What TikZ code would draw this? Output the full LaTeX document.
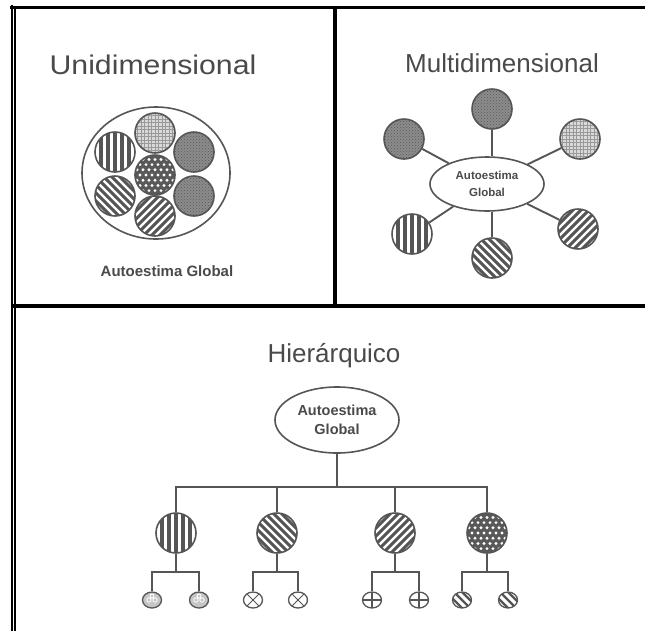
\documentclass[tikz,border=0pt]{standalone}
\usepackage{fontspec}
\setmainfont{Liberation Sans}
\usetikzlibrary{shapes.geometric,patterns}
\definecolor{lg}{HTML}{555555}
\definecolor{tg}{HTML}{4A4A4A}
\begin{document}
\begin{tikzpicture}[x=1pt,y=-1pt,
  frame/.style={draw=black,line cap=rect},
  conn/.style={draw=lg,line width=1.9pt},
  title/.style={text=tg,font=\fontsize{26}{30}\selectfont,anchor=base,inner sep=0},
  lbl/.style={text=tg,font=\bfseries\fontsize{#1}{#1}\selectfont,align=center,inner sep=0},
  bigc/.style={circle,draw=lg,line width=1.6pt,minimum size=40,inner sep=0pt},
  smallc/.style={ellipse,draw=lg,line width=1.3pt,minimum width=19,minimum height=16,inner sep=0pt},
  ellc/.style={ellipse,draw=lg,line width=1.6pt,inner sep=0pt},
  pvert/.style={path picture={\coordinate (pc) at (path picture bounding box.center);
    \begin{scope}[shift={(pc)}]
    \foreach \k in {-21,-14,...,21} \fill[lg] (\k-1.8,-30) rectangle (\k+1.8,30);
    \end{scope}}},
  pdiagA/.style={path picture={\coordinate (pc) at (path picture bounding box.center);
    \begin{scope}[shift={(pc)}]
    \foreach \k in {-48,-40,...,48} \draw[lg,line width=3pt] (\k-30,-30) -- (\k+30,30);
    \end{scope}}},
  pdiagB/.style={path picture={\coordinate (pc) at (path picture bounding box.center);
    \begin{scope}[shift={(pc)}]
    \foreach \k in {-48,-40,...,48} \draw[lg,line width=3pt] (\k-30,30) -- (\k+30,-30);
    \end{scope}}},
  plight/.style={path picture={\coordinate (pc) at (path picture bounding box.center);
    \begin{scope}[shift={(pc)}]
    \fill[gray!30] (-25,-25) rectangle (25,25);
    \foreach \k in {-7,...,7} {\draw[gray!80,line width=.7pt] (\k*3.5,-25) -- (\k*3.5,25);
      \draw[gray!80,line width=.7pt] (-25,\k*3.5) -- (25,\k*3.5);}
    \end{scope}}},
  pdark/.style={path picture={\coordinate (pc) at (path picture bounding box.center);
    \begin{scope}[shift={(pc)}]
    \fill[black!45] (-25,-25) rectangle (25,25);
    \fill[pattern=crosshatch dots,pattern color=black!65] (-25,-25) rectangle (25,25);
    \end{scope}}},
  pdots/.style={path picture={\coordinate (pc) at (path picture bounding box.center);
    \begin{scope}[shift={(pc)}]
    \fill[black!65] (-25,-25) rectangle (25,25);
    \foreach \j in {-5,...,5} \foreach \i in {-5,...,5}
      \fill[white] ({\i*6+3*mod(\j+5,2)},{\j*5.2}) circle (1.6);
    \end{scope}}},
  sA/.style={fill=gray!45,path picture={\coordinate (pc) at (path picture bounding box.center);
    \begin{scope}[shift={(pc)}]
    \draw[white,line width=.8pt] (-3,0) circle (2.2) (3,0) circle (2.2) (0,-4) circle (2);
    \end{scope}}},
  sB/.style={path picture={\coordinate (pc) at (path picture bounding box.center);
    \begin{scope}[shift={(pc)}]
    \draw[lg,line width=1pt] (-6,-6) -- (6,6) (-6,6) -- (6,-6);
    \end{scope}}},
  sC/.style={path picture={\coordinate (pc) at (path picture bounding box.center);
    \begin{scope}[shift={(pc)}]
    \draw[lg,line width=1.1pt] (-10,0) -- (10,0) (0,-10) -- (0,10);
    \end{scope}}},
  sD/.style={path picture={\coordinate (pc) at (path picture bounding box.center);
    \begin{scope}[shift={(pc)}]
    \foreach \k in {-8,0,8} \draw[lg,line width=2.4pt] (\k-10,-10) -- (\k+10,10);
    \end{scope}}}
]
\useasboundingbox (0,0) rectangle (645,630);
\fill[white] (0,0) rectangle (645,630);

% frame
\draw[frame,line width=3pt] (11,7.5) -- (645,7.5);
\draw[frame,line width=2.4pt] (12.2,6) -- (12.2,630);
\draw[frame,line width=1.4pt] (15,8.5) -- (15,630);
\draw[frame,line width=4pt] (335,8) -- (335,306);
\draw[frame,line width=4pt] (15,306) -- (645,306);

% ---------- Unidimensional
\node[title,font=\fontsize{27}{30}\selectfont,xscale=1.12] (t1) at (153,74) {Unidimensional};
\node[ellc,minimum width=148,minimum height=132] (ue) at (156,173) {};
\node[bigc,plight] (u1) at (155,133) {};
\node[bigc,pvert] (u2) at (115,152) {};
\node[bigc,pdark] (u3) at (194,152) {};
\node[bigc,pdots] (u4) at (155,175) {};
\node[bigc,pdiagA] (u5) at (115,196) {};
\node[bigc,pdark] (u6) at (194,196) {};
\node[bigc,pdiagB] (u7) at (155,216) {};
\node[lbl=15] (ul) at (167,271) {Autoestima Global};

% ---------- Multidimensional
\node[title] (t2) at (502,72) {Multidimensional};
\node[ellc,minimum width=114,minimum height=54,lbl=11.5] (me) at (487,184) {Autoestima\\[5pt]Global};
\node[bigc,pdark] (m1) at (492,109) {};
\node[bigc,pdark] (m2) at (404,139) {};
\node[bigc,plight] (m3) at (580,139) {};
\node[bigc,pvert] (m4) at (412,234) {};
\node[bigc,pdiagA] (m5) at (492,258) {};
\node[bigc,pdiagB] (m6) at (578,229) {};
\draw[conn] (m1.south) -- (m1.south |- me.north);
\draw[conn] (m5.north) -- (m5.north |- me.south);
\draw[conn] (m2) -- (me);
\draw[conn] (m3) -- (me);
\draw[conn] (m4) -- (me);
\draw[conn] (m6) -- (me);

% ---------- Hierarquico
\node[title] (t3) at (334,362) {Hierárquico};
\node[ellc,minimum width=124,minimum height=66,lbl=14.5] (he) at (337,420) {Autoestima\\[5pt]Global};
\node[bigc,pvert] (h1) at (176,533) {};
\node[bigc,pdiagA] (h2) at (277,533) {};
\node[bigc,pdiagB] (h3) at (395,533) {};
\node[bigc,pdots] (h4) at (487,533) {};
\coordinate (hb) at (337,487);
\draw[conn] (he.south) -- (hb);
\draw[conn,line cap=rect] (h1.north |- hb) -- (h4.north |- hb);
\foreach \n in {h1,h2,h3,h4} \draw[conn] (\n.north |- hb) -- (\n.north);

\foreach \n/\a/\b/\s in {h1/152/199/sA, h2/253/298/sB, h3/372/419/sC, h4/462/508/sD}{
  \node[smallc,\s] (\n a) at (\a,600) {};
  \node[smallc,\s] (\n b) at (\b,600) {};
  \coordinate (\n j) at (\n.south |- 0,572);
  \draw[conn] (\n.south) -- (\n j);
  \draw[conn,line cap=rect] (\n a.north |- \n j) -- (\n b.north |- \n j);
  \draw[conn] (\n a.north |- \n j) -- (\n a.north);
  \draw[conn] (\n b.north |- \n j) -- (\n b.north);
}
\end{tikzpicture}
\end{document}
